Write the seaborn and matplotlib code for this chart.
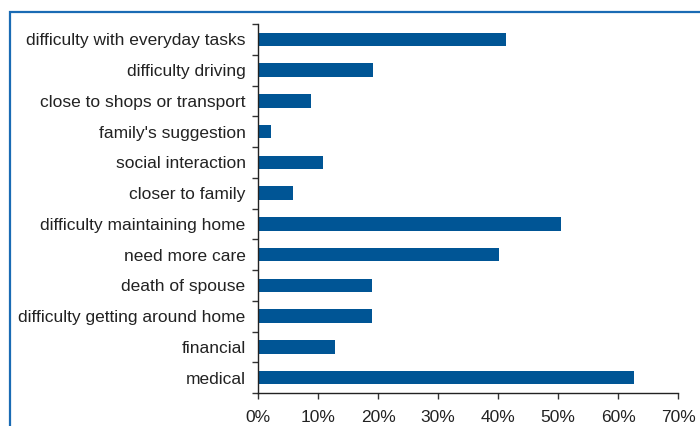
import matplotlib
matplotlib.use("Agg")
import matplotlib.pyplot as plt
import matplotlib.patches as mpatches
from matplotlib.ticker import FuncFormatter, MultipleLocator
import seaborn as sns
import pandas as pd

reasons = [
    "difficulty with everyday tasks",
    "difficulty driving",
    "close to shops or transport",
    "family's suggestion",
    "social interaction",
    "closer to family",
    "difficulty maintaining home",
    "need more care",
    "death of spouse",
    "difficulty getting around home",
    "financial",
    "medical",
]
shares = [41.3, 19.1, 8.9, 2.1, 10.8, 5.8, 50.5, 40.1, 19.0, 19.0, 12.8, 62.6]

df = pd.DataFrame({"reason": reasons, "share": shares})

sns.set_theme(style="white")
plt.rcParams["font.family"] = ["Liberation Sans", "DejaVu Sans"]

fig = plt.figure(figsize=(7.0, 4.26), dpi=100)
ax = fig.add_axes([258 / 700, 33 / 426, 420 / 700, 369 / 426])

sns.barplot(data=df, x="share", y="reason", order=reasons, color="#005595",
            saturation=1, width=0.44, orient="h", linewidth=0, ax=ax)

ax.set_xlim(0, 70)
ax.xaxis.set_major_locator(MultipleLocator(10))
ax.xaxis.set_major_formatter(FuncFormatter(lambda v, p: f"{v:.0f}%"))
ax.set_xlabel("")
ax.set_ylabel("")

for side in ("top", "right"):
    ax.spines[side].set_visible(False)
for side in ("left", "bottom"):
    ax.spines[side].set_color("#222222")
    ax.spines[side].set_linewidth(1.0)

ax.tick_params(axis="both", which="major", direction="out", length=4, width=1,
               color="#333333", labelsize=12.5, labelcolor="#222222")
ax.tick_params(axis="y", pad=9, left=True)
ax.tick_params(axis="x", pad=8, bottom=True)
ax.set_yticks([i - 0.5 for i in range(len(reasons) + 1)], minor=True)
ax.tick_params(axis="y", which="minor", direction="out", length=4, width=1,
               color="#333333", left=True)
ax.tick_params(axis="y", which="major", length=0)

# outer frame around the chart
frame = mpatches.Rectangle((10 / 700, -0.1), 1.2, (426 - 12) / 426 + 0.1,
                           transform=fig.transFigure, fill=False,
                           edgecolor="#1a6bb4", linewidth=1.6, clip_on=False)
fig.patches.append(frame)

fig.savefig("out.png", dpi=100)
